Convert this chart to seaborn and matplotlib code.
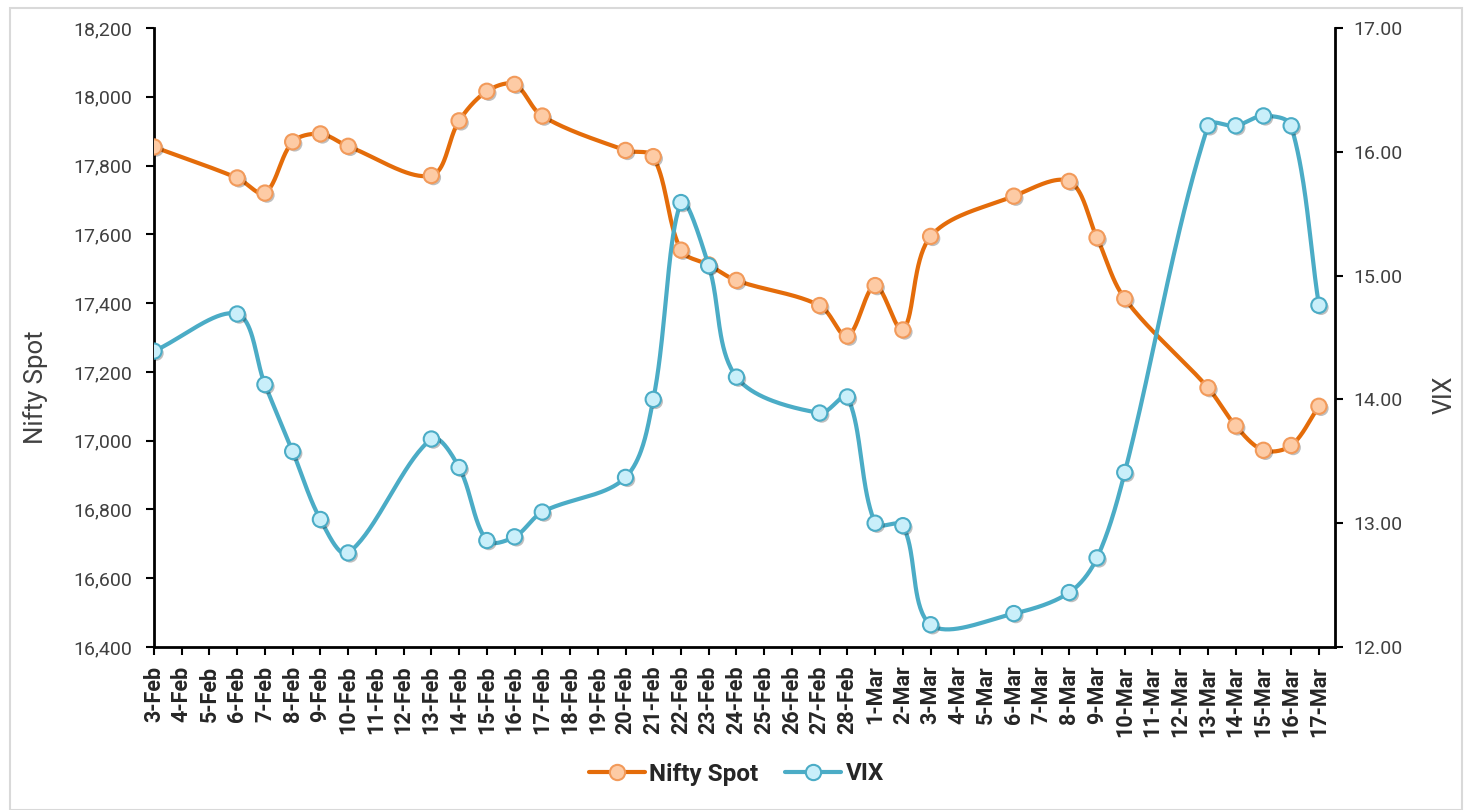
import numpy as np
import pandas as pd
import matplotlib
matplotlib.use("Agg")
import matplotlib.pyplot as plt
import matplotlib.patheffects as pe
from matplotlib.lines import Line2D
from matplotlib.patches import Rectangle
import seaborn as sns

# ---------------- data ----------------
dates = ["2023-02-03", "2023-02-06", "2023-02-07", "2023-02-08", "2023-02-09", "2023-02-10",
         "2023-02-13", "2023-02-14", "2023-02-15", "2023-02-16", "2023-02-17", "2023-02-20",
         "2023-02-21", "2023-02-22", "2023-02-23", "2023-02-24", "2023-02-27", "2023-02-28",
         "2023-03-01", "2023-03-02", "2023-03-03", "2023-03-06", "2023-03-08", "2023-03-09",
         "2023-03-10", "2023-03-13", "2023-03-14", "2023-03-15", "2023-03-16", "2023-03-17"]
nifty = [17854, 17764, 17720, 17869, 17892, 17856,
         17771, 17930, 18016, 18036, 17944, 17844,
         17826, 17554, 17511, 17466, 17393, 17304,
         17451, 17322, 17594, 17711, 17754, 17590,
         17413, 17154, 17043, 16972, 16986, 17100]
vix = [14.39, 14.69, 14.12, 13.58, 13.03, 12.76,
       13.68, 13.45, 12.86, 12.89, 13.09, 13.37,
       14.00, 15.59, 15.08, 14.18, 13.89, 14.02,
       13.00, 12.98, 12.18, 12.27, 12.44, 12.72,
       13.41, 16.21, 16.21, 16.29, 16.21, 14.76]
start_date, end_date = "2023-02-03", "2023-03-17"
left_ticks = [16400, 16600, 16800, 17000, 17200, 17400, 17600, 17800, 18000, 18200]
right_ticks = [12, 13, 14, 15, 16, 17]

d = pd.to_datetime(dates)
t0 = pd.Timestamp(start_date)
xnum = np.array([(di - t0).days for di in d], float)
ndays = (pd.Timestamp(end_date) - t0).days
all_days = pd.date_range(start_date, end_date, freq="D")
xlabels = [f"{dd.day}-{dd.strftime('%b')}" for dd in all_days]

# ---------------- style ----------------
sns.set_theme(style="white")
plt.rcParams["font.family"] = ["Roboto", "DejaVu Sans"]
THIN = ["Liberation Sans Narrow", "Roboto", "DejaVu Sans"]
BOLD = ["Roboto", "DejaVu Sans"]

ORANGE = "#E46C0A"
ORANGE_FILL = "#FDCBA5"
ORANGE_EDGE = "#F29A5A"
BLUE = "#4BACC6"
BLUE_FILL = "#C9EFFA"
BLUE_EDGE = "#4BACC6"
GRAY = "#404040"

fig = plt.figure(figsize=(14.73, 8.10), dpi=100)
fig.patches.append(Rectangle((10 / 1473, 0), 1452 / 1473, 1 - 8 / 810, transform=fig.transFigure,
                             fill=False, edgecolor="#D9D9D9", linewidth=1.5))
ax = fig.add_axes([154 / 1473, 1 - 647 / 810, (1335 - 154) / 1473, (647 - 28) / 810])
ax2 = ax.twinx()

xlim = (0, ndays + 0.58)
ax.set_xlim(*xlim)
ax.set_ylim(left_ticks[0], left_ticks[-1])
ax2.set_ylim(right_ticks[0], right_ticks[-1])


def smooth(a, x, y, n=40):
    """Excel-like smoothed line: Bezier through the points, tangents weighted by
    the neighbouring segment lengths, computed in display space."""
    pts = a.transData.transform(np.column_stack([x, y]))
    P = np.vstack([pts[0], pts, pts[-1]])
    t = np.linspace(0, 1, n)[:, None]
    out = []
    for i in range(1, len(P) - 2):
        p0, p1, p2, p3 = P[i - 1], P[i], P[i + 1], P[i + 2]
        d01 = np.hypot(*(p1 - p0)); d12 = np.hypot(*(p2 - p1)); d23 = np.hypot(*(p3 - p2))
        w1 = d12 / (d01 + d12) if (d01 + d12) > 0 else 0.5
        w2 = d12 / (d12 + d23) if (d12 + d23) > 0 else 0.5
        c1 = p1 + (p2 - p0) * w1 / 3.0
        c2 = p2 - (p3 - p1) * w2 / 3.0
        seg = ((1 - t) ** 3) * p1 + 3 * ((1 - t) ** 2) * t * c1 + 3 * (1 - t) * t ** 2 * c2 + t ** 3 * p2
        out.append(seg if i == 1 else seg[1:])
    s = a.transData.inverted().transform(np.vstack(out))
    return s[:, 0], s[:, 1]


shadow = [pe.SimplePatchShadow(offset=(1.5, -1.5), shadow_rgbFace="#000000", alpha=0.25), pe.Normal()]
MS = 11

# Nifty
sx, sy = smooth(ax, xnum, nifty)
sns.lineplot(x=sx, y=sy, ax=ax, color=ORANGE, linewidth=3, sort=False, estimator=None)
ax.plot(xnum, nifty, linestyle="none", marker="o", markersize=MS, markerfacecolor=ORANGE_FILL,
        markeredgecolor=ORANGE_EDGE, markeredgewidth=1.5, path_effects=shadow, zorder=5)

# VIX
vx, vy = smooth(ax2, xnum, vix)
sns.lineplot(x=vx, y=vy, ax=ax2, color=BLUE, linewidth=3, sort=False, estimator=None)
ax2.plot(xnum, vix, linestyle="none", marker="o", markersize=MS, markerfacecolor=BLUE_FILL,
         markeredgecolor=BLUE_EDGE, markeredgewidth=1.5, path_effects=shadow, zorder=5)

ax.set_xlim(*xlim)
ax.set_ylim(left_ticks[0], left_ticks[-1])
ax2.set_ylim(right_ticks[0], right_ticks[-1])

# axes
ax.set_xticks(np.arange(ndays + 1))
ax.set_xticklabels(xlabels, rotation=90, fontsize=15.5, fontweight="bold", color="#262626",
                   family=BOLD)
ax.set_yticks(left_ticks)
ax.set_yticklabels([f"{v:,}" for v in left_ticks], fontsize=14, color=GRAY, family=THIN)
ax2.set_yticks(right_ticks)
ax2.set_yticklabels([f"{v:.2f}" for v in right_ticks], fontsize=14, color=GRAY, family=THIN)
ax.set_ylabel("Nifty Spot", fontsize=18.5, color=GRAY, family=THIN)
ax2.set_ylabel("VIX", fontsize=18, color=GRAY, family=THIN, rotation=90)
ax.yaxis.set_label_coords((48 - 154) / 1181, 0.42)
ax2.yaxis.set_label_coords((1433 - 154) / 1181, 0.407)
ax.set_xlabel("")

for a in (ax, ax2):
    a.grid(False)
    a.spines["top"].set_visible(False)
    for s in ("left", "right", "bottom"):
        a.spines[s].set_color("black")
        a.spines[s].set_linewidth(2)
ax.spines["right"].set_visible(False)
ax2.spines["left"].set_visible(False)
ax2.spines["bottom"].set_visible(False)
ax.tick_params(axis="x", direction="out", length=5.5, width=1.5, color="black", pad=8, bottom=True)
ax.tick_params(axis="y", direction="out", length=5.5, width=1.5, color="black", pad=10, left=True)
ax2.tick_params(axis="y", direction="out", length=5.5, width=1.5, color="black", pad=8, right=True)

handles = [
    Line2D([0], [0], color=ORANGE, linewidth=3, marker="o", markersize=MS,
           markerfacecolor=ORANGE_FILL, markeredgecolor=ORANGE_EDGE, markeredgewidth=1.5),
    Line2D([0], [0], color=BLUE, linewidth=3, marker="o", markersize=MS,
           markerfacecolor=BLUE_FILL, markeredgecolor=BLUE_EDGE, markeredgewidth=1.5),
]
fig.legend(handles, ["Nifty Spot", "VIX"], loc="center", bbox_to_anchor=(0.5, 1 - 774 / 810),
           ncol=2, frameon=False, prop={"size": 17.5, "weight": "bold", "family": BOLD},
           handlelength=2.3, columnspacing=1.1, handletextpad=0.2, labelcolor="#262626")

fig.savefig("out.png", dpi=100)
